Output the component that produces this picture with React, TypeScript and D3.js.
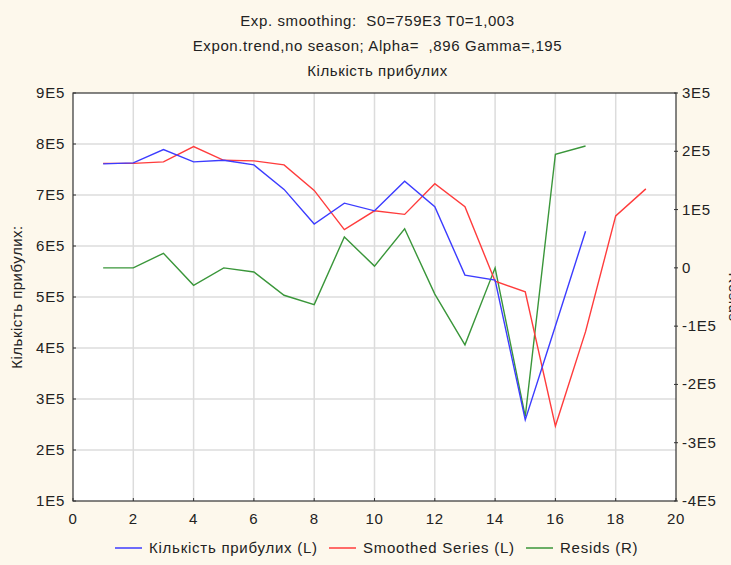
import React from "react";
import * as d3 from "d3";

const xValues = [1, 2, 3, 4, 5, 6, 7, 8, 9, 10, 11, 12, 13, 14, 15, 16, 17, 18, 19];
const arrivals = [761000, 763000, 789000, 765000, 768000, 759000, 711000, 643000, 684000, 669000, 727000, 677000, 543000, 533000, 259000, 443000, 629000];
const smoothed = [762000, 762000, 765000, 795000, 768000, 767000, 759000, 709000, 632000, 669000, 662000, 722000, 677000, 531000, 510000, 247000, 432000, 659000, 712000];
const resids = [0, 0, 25000, -30000, 0, -7000, -47000, -63000, 53000, 3000, 67000, -45000, -132000, 0, -255000, 195000, 209000];

const leftTicks = [100000, 200000, 300000, 400000, 500000, 600000, 700000, 800000, 900000];
const leftTickLabels = ["1E5", "2E5", "3E5", "4E5", "5E5", "6E5", "7E5", "8E5", "9E5"];
const rightTicks = [-400000, -300000, -200000, -100000, 0, 100000, 200000, 300000];
const rightTickLabels = ["-4E5", "-3E5", "-2E5", "-1E5", "0", "1E5", "2E5", "3E5"];
const xTicks = [0, 2, 4, 6, 8, 10, 12, 14, 16, 18, 20];

const titleLines = [
  "Exp. smoothing:  S0=759E3 T0=1,003",
  "Expon.trend,no season; Alpha=  ,896 Gamma=,195",
  "Кількість прибулих",
];
const seriesNames = ["Кількість прибулих (L)", "Smoothed Series (L)", "Resids (R)"];
const seriesColors = ["#3c3cff", "#ff3c3c", "#3a963a"];

const W = 731;
const H = 565;
const L = 73;
const R = 676;
const T = 93;
const B = 501;
const FONT = "'Liberation Sans', Arial, sans-serif";

export default function App() {
  const x = d3.scaleLinear().domain([0, 20]).range([L, R]);
  const yL = d3.scaleLinear().domain([100000, 900000]).range([B, T]);
  const yR = d3.scaleLinear().domain([-400000, 300000]).range([B, T]);

  const lineL = d3
    .line<number>()
    .x((_, i) => x(xValues[i]))
    .y((d) => yL(d));
  const lineR = d3
    .line<number>()
    .x((_, i) => x(xValues[i]))
    .y((d) => yR(d));

  const legendX = [115, 329, 526];
  const txt = { fill: "#222", letterSpacing: 0.75 } as const;

  return (
    <svg
      width={W}
      height={H}
      style={{ position: "absolute", left: 0, top: 0, display: "block" }}
      fontFamily={FONT}
    >
      <rect x={0} y={0} width={W} height={H} fill="#fdf8ec" />
      <rect x={L} y={T} width={R - L} height={B - T} fill="#ffffff" />

      {titleLines.map((t, i) => (
        <text
          key={i}
          x={(L + R) / 2 + 3}
          y={26 + i * 25}
          textAnchor="middle"
          fontSize={15}
          fill="#222"
          letterSpacing={0.6}
          style={{ whiteSpace: "pre" }}
        >
          {t}
        </text>
      ))}

      {/* grid */}
      {xTicks.slice(1, -1).map((v) => (
        <line key={"gx" + v} x1={x(v)} x2={x(v)} y1={T} y2={B} stroke="#dcdcdc" strokeWidth={1.5} />
      ))}
      {leftTicks.slice(1, -1).map((v) => (
        <line key={"gy" + v} x1={L} x2={R} y1={yL(v)} y2={yL(v)} stroke="#dcdcdc" strokeWidth={1.5} />
      ))}

      {/* series */}
      <path d={lineR(resids) || ""} fill="none" stroke={seriesColors[2]} strokeWidth={1.4} />
      <path d={lineL(smoothed) || ""} fill="none" stroke={seriesColors[1]} strokeWidth={1.4} />
      <path d={lineL(arrivals) || ""} fill="none" stroke={seriesColors[0]} strokeWidth={1.4} />

      {/* frame */}
      <rect x={L} y={T} width={R - L} height={B - T} fill="none" stroke="#333" strokeWidth={1.2} />

      {/* left axis */}
      {leftTicks.map((v, i) => (
        <g key={"lt" + v}>
          <line x1={L} x2={L + 3} y1={yL(v)} y2={yL(v)} stroke="#333" />
          <text x={L - 8} y={yL(v) + 5} textAnchor="end" fontSize={15} {...txt}>
            {leftTickLabels[i]}
          </text>
        </g>
      ))}
      {/* right axis */}
      {rightTicks.map((v, i) => (
        <g key={"rt" + v}>
          <line x1={R - 2} x2={R + 2} y1={yR(v)} y2={yR(v)} stroke="#333" />
          <text x={R + 6} y={yR(v) + 5} textAnchor="start" fontSize={15} {...txt}>
            {rightTickLabels[i]}
          </text>
        </g>
      ))}
      {/* bottom axis */}
      {xTicks.map((v) => (
        <g key={"xt" + v}>
          <line x1={x(v)} x2={x(v)} y1={B} y2={B - 3} stroke="#333" />
          <text x={x(v)} y={B + 23} textAnchor="middle" fontSize={15} {...txt}>
            {v}
          </text>
        </g>
      ))}

      {/* axis titles */}
      <text
        transform={`translate(22, ${(T + B) / 2}) rotate(-90)`}
        textAnchor="middle"
        fontSize={15}
        fill="#222"
        letterSpacing={0.5}
      >
        Кількість прибулих:
      </text>
      <text
        transform={`translate(729, ${(T + B) / 2}) rotate(90)`}
        textAnchor="middle"
        fontSize={15}
        fill="#222"
        letterSpacing={0.5}
      >
        Resids
      </text>

      {/* legend */}
      {seriesNames.map((n, i) => (
        <g key={"lg" + i}>
          <line x1={legendX[i]} x2={legendX[i] + 27} y1={548} y2={548} stroke={seriesColors[i]} strokeWidth={1.5} />
          <text x={legendX[i] + 34} y={553} fontSize={15} {...txt}>
            {n}
          </text>
        </g>
      ))}
    </svg>
  );
}
